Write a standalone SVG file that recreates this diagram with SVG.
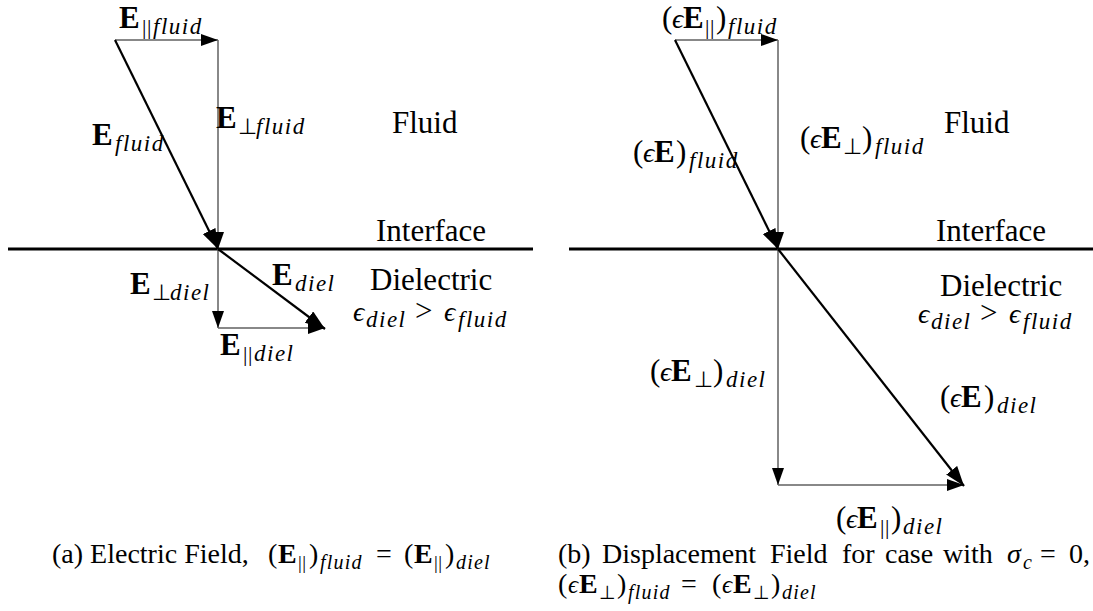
<svg xmlns="http://www.w3.org/2000/svg" width="1093" height="611" viewBox="0 0 1093 611">
<style>
.t { font-size: 31px; }
.c { font-size: 28px; }
.b { font-weight: 700; }
.s { font-size: 23px; font-style: italic; letter-spacing: 1.5px; }
.cs { font-size: 20px; font-style: italic; letter-spacing: 1.2px; }
.sy { font-size: 22px; font-style: normal; }
.bar { font-size: 22px; font-style: normal; letter-spacing: 0.5px; }
.cbar { font-size: 19px; font-style: normal; letter-spacing: 0.5px; }
.csy { font-size: 19px; font-style: normal; }
.ep { font-size: 28px; font-style: italic; }
.cep { font-size: 25px; font-style: italic; }
.thin { stroke: #606060; stroke-width: 1.5; fill: none; }
.thick { stroke: #000; stroke-width: 2.2; fill: none; }
.iface { stroke: #000; stroke-width: 3; }
</style>
<defs>
<marker id="ah" viewBox="0 0 17 12" refX="17" refY="6" markerWidth="17" markerHeight="12" orient="auto" markerUnits="userSpaceOnUse">
<path d="M0,0 L17,6 L0,12 z" fill="#000"/>
</marker>
<marker id="ahb" viewBox="0 0 20 14" refX="20" refY="7" markerWidth="20" markerHeight="14" orient="auto" markerUnits="userSpaceOnUse">
<path d="M0,0 L20,7 L0,14 z" fill="#000"/>
</marker>
</defs>
<rect width="1093" height="611" fill="#fff"/>

<g id="connectors">
<line class="iface" x1="8" y1="249" x2="533" y2="249"/>
<line class="iface" x1="569" y1="249" x2="1093" y2="249"/>
<line class="thin" x1="115" y1="40" x2="218" y2="40" marker-end="url(#ah)"/>
<line class="thin" x1="218" y1="40" x2="218" y2="249" marker-end="url(#ah)"/>
<line class="thick" x1="115" y1="40" x2="218" y2="249" marker-end="url(#ahb)"/>
<line class="thin" x1="218" y1="249" x2="218" y2="328" marker-end="url(#ah)"/>
<line class="thin" x1="218" y1="328" x2="325" y2="328" marker-end="url(#ah)"/>
<line class="thick" x1="218" y1="249" x2="325" y2="329" marker-end="url(#ahb)"/>
<line class="thin" x1="675" y1="40" x2="778" y2="40" marker-end="url(#ah)"/>
<line class="thin" x1="778" y1="40" x2="778" y2="249" marker-end="url(#ah)"/>
<line class="thick" x1="675" y1="40" x2="778" y2="249" marker-end="url(#ahb)"/>
<line class="thin" x1="778" y1="249" x2="778" y2="485" marker-end="url(#ah)"/>
<line class="thin" x1="778" y1="485" x2="964" y2="485" marker-end="url(#ah)"/>
<line class="thick" x1="778" y1="249" x2="964" y2="486" marker-end="url(#ahb)"/>
</g>

<g font-family="Liberation Serif, serif">
<!-- Left panel labels -->
<g id="E-par-fluid">
<text class="t" font-family="Liberation Serif" font-weight="300"><tspan class="b" x="119" y="28">E</tspan><tspan class="bar" x="142" y="34">||</tspan><tspan class="s" x="153" y="34">fluid</tspan></text>
</g>
<g id="E-fluid">
<text class="t" font-family="Liberation Serif" font-weight="300"><tspan class="b" x="92" y="145">E</tspan><tspan class="s" x="115" y="151">fluid</tspan></text>
</g>
<g id="E-perp-fluid">
<text class="t" font-family="Liberation Serif" font-weight="300"><tspan class="b" x="216" y="128">E</tspan><tspan class="sy" x="238" y="134">⊥</tspan><tspan class="s" x="256" y="134">fluid</tspan></text>
</g>
<g id="fluid-a"><text class="t" font-family="Liberation Serif" font-weight="300" x="392" y="133">Fluid</text></g>
<g id="interface-a"><text class="t" font-family="Liberation Serif" font-weight="300" x="376" y="241">Interface</text></g>
<g id="E-perp-diel">
<text class="t" font-family="Liberation Serif" font-weight="300"><tspan class="b" x="130" y="294">E</tspan><tspan class="sy" x="152" y="300">⊥</tspan><tspan class="s" x="170" y="300">diel</tspan></text>
</g>
<g id="E-diel">
<text class="t" font-family="Liberation Serif" font-weight="300"><tspan class="b" x="272" y="285">E</tspan><tspan class="s" x="295" y="291">diel</tspan></text>
</g>
<g id="dielectric-a">
<text class="t" font-family="Liberation Serif" font-weight="300" x="370" y="290">Dielectric</text>
<text class="t" font-family="Liberation Serif" font-weight="300"><tspan class="ep" x="353" y="321">ϵ</tspan><tspan class="s" x="366" y="327">diel</tspan><tspan x="415" y="321">&gt;</tspan><tspan class="ep" x="444" y="321">ϵ</tspan><tspan class="s" x="458" y="327">fluid</tspan></text>
</g>
<g id="E-par-diel">
<text class="t" font-family="Liberation Serif" font-weight="300"><tspan class="b" x="220" y="355">E</tspan><tspan class="bar" x="243" y="361">||</tspan><tspan class="s" x="254" y="361">diel</tspan></text>
</g>

<!-- Right panel labels -->
<g id="eE-par-fluid">
<text class="t" font-family="Liberation Serif" font-weight="300"><tspan x="662" y="28">(</tspan><tspan class="ep" x="672" y="28">ϵ</tspan><tspan class="b" x="683" y="28">E</tspan><tspan class="bar" x="705" y="34">||</tspan><tspan x="716" y="28">)</tspan><tspan class="s" x="728" y="34">fluid</tspan></text>
</g>
<g id="eE-fluid">
<text class="t" font-family="Liberation Serif" font-weight="300"><tspan x="633" y="162">(</tspan><tspan class="ep" x="643" y="162">ϵ</tspan><tspan class="b" x="654" y="162">E</tspan><tspan x="676" y="162">)</tspan><tspan class="s" x="689" y="168">fluid</tspan></text>
</g>
<g id="eE-perp-fluid">
<text class="t" font-family="Liberation Serif" font-weight="300"><tspan x="800" y="148">(</tspan><tspan class="ep" x="810" y="148">ϵ</tspan><tspan class="b" x="821" y="148">E</tspan><tspan class="sy" x="843" y="154">⊥</tspan><tspan x="862" y="148">)</tspan><tspan class="s" x="875" y="154">fluid</tspan></text>
</g>
<g id="fluid-b"><text class="t" font-family="Liberation Serif" font-weight="300" x="944" y="133">Fluid</text></g>
<g id="interface-b"><text class="t" font-family="Liberation Serif" font-weight="300" x="936" y="241">Interface</text></g>
<g id="dielectric-b">
<text class="t" font-family="Liberation Serif" font-weight="300" x="940" y="296">Dielectric</text>
<text class="t" font-family="Liberation Serif" font-weight="300"><tspan class="ep" x="918" y="323">ϵ</tspan><tspan class="s" x="931" y="329">diel</tspan><tspan x="980" y="323">&gt;</tspan><tspan class="ep" x="1009" y="323">ϵ</tspan><tspan class="s" x="1023" y="329">fluid</tspan></text>
</g>
<g id="eE-perp-diel">
<text class="t" font-family="Liberation Serif" font-weight="300"><tspan x="650" y="381">(</tspan><tspan class="ep" x="660" y="381">ϵ</tspan><tspan class="b" x="671" y="381">E</tspan><tspan class="sy" x="694" y="387">⊥</tspan><tspan x="713" y="381">)</tspan><tspan class="s" x="726" y="387">diel</tspan></text>
</g>
<g id="eE-diel">
<text class="t" font-family="Liberation Serif" font-weight="300"><tspan x="940" y="407">(</tspan><tspan class="ep" x="950" y="407">ϵ</tspan><tspan class="b" x="961" y="407">E</tspan><tspan x="984" y="407">)</tspan><tspan class="s" x="997" y="413">diel</tspan></text>
</g>
<g id="eE-par-diel">
<text class="t" font-family="Liberation Serif" font-weight="300"><tspan x="836" y="528">(</tspan><tspan class="ep" x="846" y="528">ϵ</tspan><tspan class="b" x="857" y="528">E</tspan><tspan class="bar" x="880" y="534">||</tspan><tspan x="891" y="528">)</tspan><tspan class="s" x="903" y="534">diel</tspan></text>
</g>

<!-- Captions -->
<g id="caption-a">
<text class="c" font-family="Liberation Serif" font-weight="300" x="52" y="563">(a) Electric Field,</text>
<text class="c" font-family="Liberation Serif" font-weight="300"><tspan x="268" y="563">(</tspan><tspan class="b" x="278" y="563">E</tspan><tspan class="cbar" x="298" y="569">||</tspan><tspan x="309" y="563">)</tspan><tspan class="cs" x="320" y="569">fluid</tspan><tspan x="376" y="563">=</tspan><tspan x="404" y="563">(</tspan><tspan class="b" x="414" y="563">E</tspan><tspan class="cbar" x="434" y="569">||</tspan><tspan x="445" y="563">)</tspan><tspan class="cs" x="456" y="569">diel</tspan></text>
</g>
<g id="caption-b">
<text class="c" font-family="Liberation Serif" font-weight="300" x="558" y="563">(b)</text>
<text class="c" font-family="Liberation Serif" font-weight="300" x="602" y="563">Displacement</text>
<text class="c" font-family="Liberation Serif" font-weight="300" x="770" y="563">Field</text>
<text class="c" font-family="Liberation Serif" font-weight="300" x="842" y="563">for</text>
<text class="c" font-family="Liberation Serif" font-weight="300" x="885" y="563">case</text>
<text class="c" font-family="Liberation Serif" font-weight="300" x="943" y="563">with</text>
<text class="c" font-family="Liberation Serif" font-weight="300"><tspan font-style="italic" x="1007" y="563">σ</tspan><tspan class="cs" x="1023" y="569">c</tspan><tspan x="1040" y="563">=</tspan><tspan x="1069" y="563">0,</tspan></text>
<text class="c" font-family="Liberation Serif" font-weight="300"><tspan x="558" y="593">(</tspan><tspan class="cep" x="568" y="593">ϵ</tspan><tspan class="b" x="579" y="593">E</tspan><tspan class="csy" x="599" y="599">⊥</tspan><tspan x="617" y="593">)</tspan><tspan class="cs" x="628" y="599">fluid</tspan><tspan x="681" y="593">=</tspan><tspan x="712" y="593">(</tspan><tspan class="cep" x="722" y="593">ϵ</tspan><tspan class="b" x="733" y="593">E</tspan><tspan class="csy" x="753" y="599">⊥</tspan><tspan x="771" y="593">)</tspan><tspan class="cs" x="782" y="599">diel</tspan></text>
</g>
</g>
</svg>
